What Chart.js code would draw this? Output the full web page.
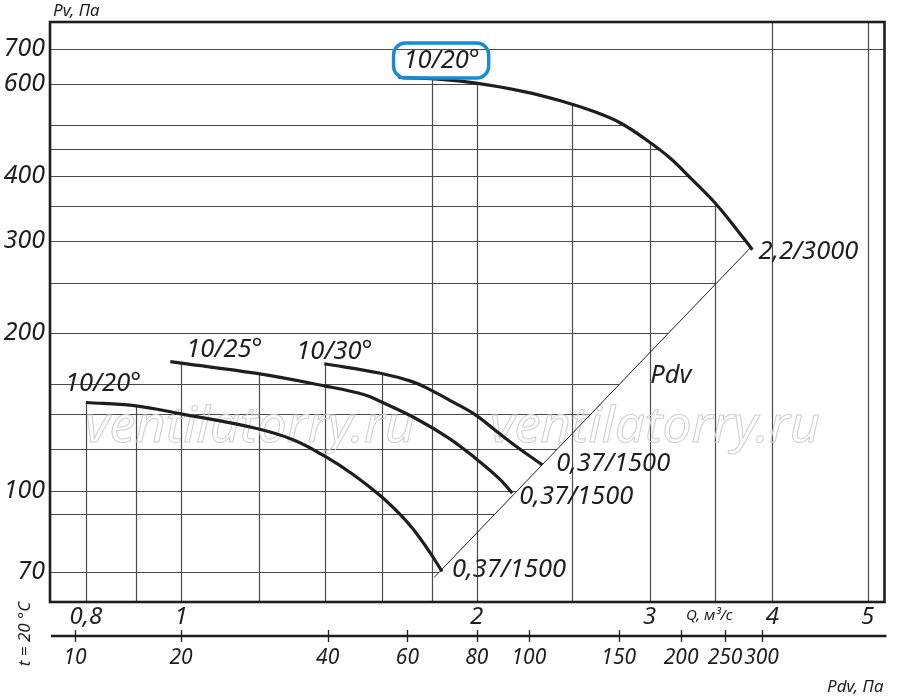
<!DOCTYPE html>
<html>
<head>
<meta charset="utf-8">
<script src="https://cdn.jsdelivr.net/npm/chart.js@4.4.1/dist/chart.umd.min.js"></script>
<style>
  html, body { margin: 0; padding: 0; background: #fff; }
  #wrap { width: 900px; height: 697px; position: relative; }
</style>
</head>
<body>
<div id="wrap"><canvas id="chartContainer"></canvas></div>
<script>
// кривые вентилятора, Q в м3/с, Pv в Па
var curveA_Q = [1.665, 1.794, 1.997, 2.234, 2.434, 2.633, 2.802, 2.995, 3.151, 3.303, 3.488, 3.627, 3.817];
var curveA_P = [617, 614, 602, 580, 557, 531, 505, 465, 432, 396, 357, 327, 289];

var curveB_Q = [0.800, 0.896, 1.0, 1.191, 1.302, 1.402, 1.498, 1.599, 1.672, 1.725, 1.794, 1.844];
var curveB_P = [147.4, 145.4, 140.2, 131.6, 125, 116.2, 107.2, 97.4, 89.9, 84.1, 75.9, 70.0];

var curveC_Q = [0.975, 1.0, 1.19, 1.399, 1.540, 1.596, 1.732, 1.873, 1.994, 2.106, 2.174];
var curveC_P = [176.5, 175.3, 167.7, 158.6, 152.4, 148.0, 137.5, 126, 115.3, 105.6, 98.9];

var curveD_Q = [1.399, 1.596, 1.719, 1.794, 1.888, 1.994, 2.106, 2.207, 2.332];
var curveD_P = [174.8, 167.7, 161.6, 155.8, 148.0, 139.6, 128.8, 120.5, 112.0];

// линия Pdv
var pdvLine_Q = [1.81, 3.80];
var pdvLine_P = [68.2, 291.5];

var curveNames = ['10/20°', '10/20°', '10/25°', '10/30°'];
var curvePower = ['2,2/3000', '0,37/1500', '0,37/1500', '0,37/1500'];

// оси
var qTicks = [0.8, 1, 2, 3, 4, 5];
var pTicks = [70, 100, 200, 300, 400, 600, 700];
var gridQ = [0.8, 0.9, 1, 1.2, 1.4, 1.6, 1.8, 2, 2.5, 3, 3.5, 4, 5];
var gridP = [70, 90, 100, 120, 140, 160, 200, 250, 300, 350, 400, 450, 500, 600, 700];
var pdvTickQ = [0.78, 1.0, 1.41, 1.70, 2.0, 2.26, 2.79, 3.23, 3.58, 3.90];
var pdvTickLabels = ['10', '20', '40', '60', '80', '100', '150', '200', '250', '300'];

// смещения подписей (пиксели)
var nameOffsets = [[5, -17], [-21, -19], [16, -12], [-28, -12]];
var powerOffsets = [[6, 2], [10, -2], [7, 4], [14, -1]];

var INK = '#1e1e1e';
var FONT = "'Noto Sans', 'DejaVu Sans', sans-serif";

function toPoints(qs, ps) {
    return qs.map(function (q, i) { return { x: q, y: ps[i] }; });
}

// линейная интерполяция по пиксельным точкам кривой
function yAtX(pts, px) {
    if (px < pts[0].x - 1.5 || px > pts[pts.length - 1].x + 0.5) return null;
    for (var i = 0; i < pts.length - 1; i++) {
        if (px <= pts[i + 1].x) {
            var t = (px - pts[i].x) / (pts[i + 1].x - pts[i].x);
            t = Math.max(0, Math.min(1, t));
            return pts[i].y + t * (pts[i + 1].y - pts[i].y);
        }
    }
    return pts[pts.length - 1].y;
}
function xAtY(p0, p1, py) {
    var t = (py - p0.y) / (p1.y - p0.y);
    return p0.x + t * (p1.x - p0.x);
}

var gridPlugin = {
    id: 'fanGrid',
    beforeDatasetsDraw: function (chart) {
        var ctx = chart.ctx, a = chart.chartArea;
        var xs = chart.scales.x, ys = chart.scales.y;
        var pts = function (i) {
            return chart.getDatasetMeta(i).data.map(function (p) { return { x: p.x, y: p.y }; });
        };
        var curves = [pts(0), pts(1), pts(2), pts(3)];
        var main = curves[0];
        var pdv = pts(4);

        ctx.save();
        ctx.strokeStyle = '#4a4a4a';
        ctx.lineWidth = 1.2;
        // вертикальные линии — от огибающей кривых вниз
        gridQ.forEach(function (q) {
            var px = Math.round(xs.getPixelForValue(q)) + 0.5;
            var top = null;
            curves.forEach(function (c) {
                var yy = yAtX(c, px);
                if (yy !== null && (top === null || yy < top)) top = yy;
            });
            if (top === null) top = a.top;
            ctx.beginPath();
            ctx.moveTo(px, top);
            ctx.lineTo(px, a.bottom);
            ctx.stroke();
        });
        // горизонтальные линии — до кривой 10/20° или до линии Pdv
        gridP.forEach(function (p) {
            var py = Math.round(ys.getPixelForValue(p)) + 0.5;
            var xEnd;
            if (py < main[0].y) {
                xEnd = a.right;
            } else if (py <= main[main.length - 1].y) {
                xEnd = a.right;
                for (var i = 0; i < main.length - 1; i++) {
                    if (py >= main[i].y && py <= main[i + 1].y) {
                        xEnd = xAtY(main[i], main[i + 1], py);
                        break;
                    }
                }
            } else {
                xEnd = xAtY(pdv[0], pdv[1], py);
            }
            ctx.beginPath();
            ctx.moveTo(a.left, py);
            ctx.lineTo(xEnd, py);
            ctx.stroke();
        });

        // водяной знак
        ctx.font = 'italic 49px ' + FONT;
        ctx.strokeStyle = '#cfcfcf';
        ctx.lineWidth = 1;
        ctx.textBaseline = 'alphabetic';
        [85, 490].forEach(function (left) {
            var w = ctx.measureText('ventilatorry.ru').width;
            ctx.save();
            ctx.translate(left, 442);
            ctx.scale(330 / w, 1);
            ctx.strokeText('ventilatorry.ru', 0, 0);
            ctx.restore();
        });
        ctx.restore();
    },
    afterDatasetsDraw: function (chart) {
        var ctx = chart.ctx, a = chart.chartArea;
        ctx.save();
        // рамка
        ctx.strokeStyle = INK;
        ctx.lineWidth = 2.6;
        ctx.strokeRect(a.left, a.top, a.right - a.left, a.bottom - a.top);

        // ось Pdv
        var x2 = chart.scales.x2;
        var yLine = x2.top + 1;
        ctx.lineWidth = 2.6;
        ctx.beginPath();
        ctx.moveTo(a.left + 1, yLine);
        ctx.lineTo(a.right + 2, yLine);
        ctx.stroke();
        ctx.lineWidth = 1.3;
        pdvTickQ.forEach(function (q) {
            var px = Math.round(x2.getPixelForValue(q)) + 0.5;
            ctx.beginPath();
            ctx.moveTo(px, yLine - 6);
            ctx.lineTo(px, yLine + 6);
            ctx.stroke();
        });

        // подписи кривых
        ctx.fillStyle = INK;
        ctx.font = 'italic 25.5px ' + FONT;
        ctx.textBaseline = 'middle';
        ctx.textAlign = 'left';
        for (var i = 0; i < 4; i++) {
            var d = chart.getDatasetMeta(i).data;
            var s = d[0], e = d[d.length - 1];
            var nx = s.x + nameOffsets[i][0], ny = s.y + nameOffsets[i][1];
            ctx.fillText(curveNames[i], nx, ny);
            if (i === 0) {
                var w = ctx.measureText(curveNames[i]).width;
                ctx.save();
                ctx.strokeStyle = '#1a8ad8';
                ctx.lineWidth = 3.4;
                ctx.beginPath();
                ctx.roundRect(nx - 10, ny - 17.5, w + 19, 35, 12);
                ctx.stroke();
                ctx.restore();
            }
            ctx.fillText(curvePower[i], e.x + powerOffsets[i][0], e.y + powerOffsets[i][1]);
        }
        var pd = chart.getDatasetMeta(4).data;
        ctx.fillText('Pdv', (pd[0].x + pd[1].x) / 2 + 58, (pd[0].y + pd[1].y) / 2 - 37);

        // подписи осей
        ctx.font = 'italic 17px ' + FONT;
        ctx.fillText('Pv, Па', a.left + 3, 11);
        ctx.font = 'italic 15px ' + FONT;
        ctx.fillText('Q, м³/с', 686, a.bottom + 14);
        ctx.font = 'italic 17px ' + FONT;
        ctx.textAlign = 'right';
        ctx.fillText('Pdv, Па', a.right - 1, 687);
        ctx.save();
        ctx.translate(25, 634);
        ctx.rotate(-Math.PI / 2);
        ctx.textAlign = 'center';
        ctx.font = 'italic 17px ' + FONT;
        ctx.fillText('t = 20 °C', 0, 0);
        ctx.restore();
        ctx.restore();
    }
};

var ctx = document.getElementById('chartContainer').getContext('2d');
var lineStyle = {
    borderColor: INK,
    borderWidth: 3.2,
    pointRadius: 0,
    fill: false,
    tension: 0.4
};

var myChart = new Chart(ctx, {
    type: 'line',
    data: {
        datasets: [
            Object.assign({ label: '10/20° 2,2/3000', data: toPoints(curveA_Q, curveA_P) }, lineStyle),
            Object.assign({ label: '10/20° 0,37/1500', data: toPoints(curveB_Q, curveB_P) }, lineStyle),
            Object.assign({ label: '10/25° 0,37/1500', data: toPoints(curveC_Q, curveC_P) }, lineStyle),
            Object.assign({ label: '10/30° 0,37/1500', data: toPoints(curveD_Q, curveD_P) }, lineStyle),
            {
                label: 'Pdv',
                data: toPoints(pdvLine_Q, pdvLine_P),
                borderColor: INK,
                borderWidth: 1,
                pointRadius: 0,
                fill: false
            }
        ]
    },
    options: {
        responsive: true,
        maintainAspectRatio: false,
        animation: false,
        layout: { padding: { top: 22, right: 15.5, left: 0, bottom: 0 } },
        plugins: {
            legend: { display: false },
            tooltip: { enabled: false }
        },
        scales: {
            x: {
                type: 'logarithmic',
                position: 'bottom',
                bounds: 'data',
                weight: 0,
                min: 0.7354,
                max: 5.203,
                grid: { display: false, drawTicks: false },
                border: { display: false },
                afterBuildTicks: function (s) { s.ticks = qTicks.map(function (v) { return { value: v }; }); },
                afterFit: function (s) { s.height = 33; },
                ticks: {
                    autoSkip: false,
                    maxRotation: 0,
                    padding: 1,
                    color: INK,
                    font: { family: FONT, size: 24, style: 'italic' },
                    callback: function (v) { return String(v).replace('.', ','); }
                }
            },
            x2: {
                type: 'logarithmic',
                position: 'bottom',
                bounds: 'data',
                weight: 1,
                min: 0.7354,
                max: 5.203,
                grid: { display: false, drawTicks: false },
                border: { display: false },
                afterBuildTicks: function (s) { s.ticks = pdvTickQ.map(function (v) { return { value: v }; }); },
                afterFit: function (s) { s.height = 62; },
                ticks: {
                    autoSkip: false,
                    maxRotation: 0,
                    padding: 10,
                    color: INK,
                    font: { family: FONT, size: 21, style: 'italic' },
                    callback: function (v, i) { return pdvTickLabels[i]; }
                }
            },
            y: {
                type: 'logarithmic',
                position: 'left',
                bounds: 'data',
                min: 61.2,
                max: 788,
                grid: { display: false, drawTicks: false },
                border: { display: false },
                afterBuildTicks: function (s) { s.ticks = pTicks.map(function (v) { return { value: v }; }); },
                afterFit: function (s) { s.width = 50; },
                ticks: {
                    autoSkip: false,
                    padding: 5,
                    color: INK,
                    font: { family: FONT, size: 25, style: 'italic' },
                    callback: function (v) { return String(v); }
                }
            }
        }
    },
    plugins: [gridPlugin]
});
</script>
</body>
</html>
